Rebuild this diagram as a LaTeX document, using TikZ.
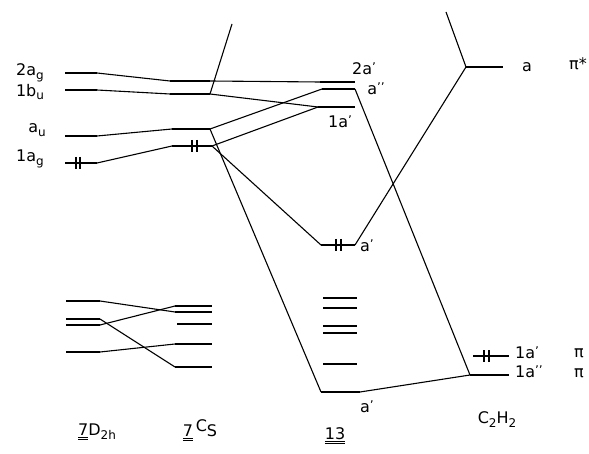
\documentclass[tikz,border=0pt]{standalone}
\usepackage{fontspec}
\setmainfont{DejaVu Sans}
\newcommand{\sbs}[1]{\raisebox{-0.45ex}{\fontsize{12}{13}\selectfont #1}}
\newcommand{\pr}{\raisebox{0.35ex}{\fontsize{12}{13}\selectfont ’}}
\newcommand{\dpr}{\raisebox{0.35ex}{\fontsize{12}{13}\selectfont ’’}}
\newcommand{\dul}[1]{\underline{\underline{#1}}}
\begin{document}
\begin{tikzpicture}[x=1pt,y=-1pt,
  lvl/.style={line width=2.2pt},
  conn/.style={line width=1.1pt},
  epair/.style={line width=1.5pt},
  lab/.style={font=\fontsize{16}{18}\selectfont, inner sep=0pt}]
\useasboundingbox (0,0) rectangle (589,454);
% ---- D2h column (upper)
\coordinate (D1-L) at (65,73);  \coordinate (D1-R) at (97,73);
\coordinate (D2-L) at (65,90);  \coordinate (D2-R) at (97,90);
\coordinate (D3-L) at (65,136); \coordinate (D3-R) at (97,136);
\coordinate (D4-L) at (65,163); \coordinate (D4-R) at (97,163);
% ---- Cs column (upper)
\coordinate (C1-L) at (170,81);  \coordinate (C1-R) at (210,81);
\coordinate (C2-L) at (170,94);  \coordinate (C2-R) at (210,94);
\coordinate (C3-L) at (172,129); \coordinate (C3-R) at (210,129);
\coordinate (C4-L) at (172,146); \coordinate (C4-R) at (212,146);
% ---- 13 column
\coordinate (T1-L) at (320,82);  \coordinate (T1-R) at (355,82);
\coordinate (T2-L) at (322,89);  \coordinate (T2-R) at (355,89);
\coordinate (T3-L) at (318,107); \coordinate (T3-R) at (355,107);
\coordinate (T4-L) at (321,245); \coordinate (T4-R) at (355,245);
\coordinate (T5-L) at (321,392); \coordinate (T5-R) at (360,392);
\coordinate (S1-L) at (323,298); \coordinate (S1-R) at (357,298);
\coordinate (S2-L) at (323,308); \coordinate (S2-R) at (357,308);
\coordinate (S3-L) at (323,326); \coordinate (S3-R) at (357,326);
\coordinate (S4-L) at (323,333); \coordinate (S4-R) at (357,333);
\coordinate (S5-L) at (323,364); \coordinate (S5-R) at (357,364);
% ---- C2H2 column
\coordinate (A1-L) at (466,67);  \coordinate (A1-R) at (503,67);
\coordinate (A2-L) at (473,356); \coordinate (A2-R) at (509,356);
\coordinate (A3-L) at (470,375); \coordinate (A3-R) at (509,375);
% ---- lower block
\coordinate (L1-L) at (66,301); \coordinate (L1-R) at (100,301);
\coordinate (L2-L) at (66,319); \coordinate (L2-R) at (100,319);
\coordinate (L3-L) at (66,325); \coordinate (L3-R) at (100,325);
\coordinate (L4-L) at (66,352); \coordinate (L4-R) at (100,352);
\coordinate (M1-L) at (175,306); \coordinate (M1-R) at (212,306);
\coordinate (M2-L) at (175,312); \coordinate (M2-R) at (212,312);
\coordinate (M3-L) at (177,324); \coordinate (M3-R) at (212,324);
\coordinate (M4-L) at (175,344); \coordinate (M4-R) at (212,344);
\coordinate (M5-L) at (175,367); \coordinate (M5-R) at (212,367);
% free ends
\coordinate (E1) at (232,24);
\coordinate (E2) at (446,12);
% ---- levels
\foreach \n in {D1,D2,D3,D4,C1,C2,C3,C4,T1,T2,T3,T4,T5,S1,S2,S3,S4,S5,A1,A2,A3,L1,L2,L3,L4,M1,M2,M3,M4,M5}
  \draw[lvl] (\n-L) -- (\n-R);
% ---- correlation lines
\draw[conn] (D1-R) -- (C1-L);
\draw[conn] (D2-R) -- (C2-L);
\draw[conn] (D3-R) -- (C3-L);
\draw[conn] (D4-R) -- (C4-L);
\draw[conn] (C2-R) -- (E1);
\draw[conn] (C1-R) -- (T1-L);
\draw[conn] (C2-R) -- (T3-L);
\draw[conn] (C3-R) -- (T2-L);
\draw[conn] (C4-R) -- (T3-L);
\draw[conn] (C4-R) -- (T4-L);
\draw[conn] (C3-R) -- (T5-L);
\draw[conn] (T4-R) -- (A1-L);
\draw[conn] (A1-L) -- (E2);
\draw[conn] (T2-R) -- (A3-L);
\draw[conn] (T5-R) -- (A3-L);
\draw[conn] (L1-R) -- (M2-L);
\draw[conn] (L2-R) -- (M5-L);
\draw[conn] (L3-R) -- (M1-L);
\draw[conn] (L4-R) -- (M4-L);
% ---- electron pairs
\foreach \x/\y in {76/163,80/163,192/146,197/146,336/245,341/245,484/356,489/356}
  \draw[epair] (\x,\y-6) -- (\x,\y+6);
% ---- labels
\node[lab] (l2ag) at (30,73) {2a\sbs{g}};
\node[lab] (l1bu) at (30,92) {1b\sbs{u}};
\node[lab] (lau)  at (37,130) {a\sbs{u}};
\node[lab] (l1ag) at (30,159) {1a\sbs{g}};
\node[lab] (l2ap) at (364,69) {2a\pr};
\node[lab] (lapp) at (376,89) {a\dpr};
\node[lab] (l1ap) at (340,122) {1a\pr};
\node[lab] (lap)  at (367,246) {a\pr};
\node[lab] (lapb) at (367,407) {a\pr};
\node[lab] (la)   at (527,67) {a};
\node[lab] (lpis) at (578,64) {π*};
\node[lab] (lc1a) at (527,353) {1a\pr};
\node[lab] (lpi1) at (579,353) {π};
\node[lab] (lc1b) at (529,372) {1a\dpr};
\node[lab] (lpi2) at (579,373) {π};
\node[lab] (lD)   at (97,432) {\dul{7}D\sbs{2h}};
\node[lab] (lC)   at (200,430) {\dul{7}\,\raisebox{0.6ex}{C}S};
\node[lab] (l13)  at (335,436) {\dul{13}};
\node[lab] (lC2)  at (497,420) {C\sbs{2}H\sbs{2}};
\end{tikzpicture}
\end{document}
